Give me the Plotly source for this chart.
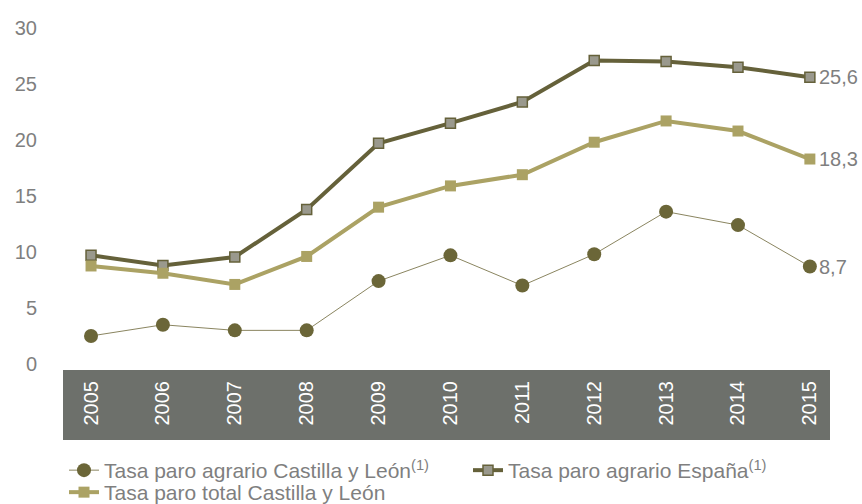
import plotly.graph_objects as go

years = ["2005", "2006", "2007", "2008", "2009", "2010", "2011", "2012", "2013", "2014", "2015"]
agrario_cyl = [2.5, 3.5, 3.0, 3.0, 7.4, 9.7, 7.0, 9.8, 13.6, 12.4, 8.7]
agrario_esp = [9.7, 8.8, 9.55, 13.8, 19.7, 21.5, 23.4, 27.1, 27.0, 26.5, 25.6]
total_cyl = [8.75, 8.1, 7.1, 9.6, 14.0, 15.9, 16.9, 19.8, 21.7, 20.8, 18.3]
end_labels = ["8,7", "25,6", "18,3"]
y_ticks = [0, 5, 10, 15, 20, 25, 30]

GREY = "#7f7f7f"
FONT = "Liberation Sans, Arial, sans-serif"
xs = list(range(len(years)))

fig = go.Figure()
fig.add_trace(go.Scatter(
    x=xs, y=agrario_cyl, mode="lines+markers",
    name="Tasa paro agrario Castilla y León<sup>(1)</sup>",
    line=dict(color="#8a8560", width=1),
    marker=dict(symbol="circle", size=14, color="#6b6638", line=dict(width=0)),
    legend="legend",
))
fig.add_trace(go.Scatter(
    x=xs, y=agrario_esp, mode="lines+markers",
    name="Tasa paro agrario España<sup>(1)</sup>",
    line=dict(color="#65613a", width=4),
    marker=dict(symbol="square", size=10, color="#9a998d", line=dict(width=1.5, color="#65613a")),
    legend="legend2",
))
fig.add_trace(go.Scatter(
    x=xs, y=total_cyl, mode="lines+markers",
    name="Tasa paro total Castilla y León",
    line=dict(color="#aba264", width=4),
    marker=dict(symbol="square", size=11, color="#aba264", line=dict(width=0)),
    legend="legend3",
))

series_last = [agrario_cyl[-1], agrario_esp[-1], total_cyl[-1]]
for lab, yv in zip(end_labels, series_last):
    fig.add_annotation(x=xs[-1], y=yv, xref="x", yref="y", text=lab, showarrow=False,
                       xanchor="left", xshift=7, font=dict(size=20, color=GREY, family=FONT))

W, H = 862, 504
L, R, T, B = 63, 32, 28, 134
plot_h = H - T - B

# grey band behind x tick labels
fig.add_shape(type="rect", xref="paper", yref="paper", x0=0, x1=1, y0=0, y1=-70/plot_h,
              fillcolor="#6d706b", line=dict(width=0), layer="below")

leg_common = dict(orientation="h", xref="container", yref="container",
                  xanchor="left", yanchor="top",
                  font=dict(size=21, color=GREY, family=FONT),
                  itemwidth=30, tracegroupgap=0, bgcolor="rgba(0,0,0,0)")

fig.update_layout(
    width=W, height=H,
    margin=dict(l=L, r=R, t=T, b=B),
    paper_bgcolor="white", plot_bgcolor="white",
    font=dict(family=FONT, color=GREY),
    showlegend=True,
    legend=dict(x=64/W, y=1-450/H, **leg_common),
    legend2=dict(x=468/W, y=1-450/H, **leg_common),
    legend3=dict(x=64/W, y=1-472/H, **leg_common),
    xaxis=dict(range=[-0.39, 10.28], tickmode="array", tickvals=xs, ticktext=years,
               tickangle=-90, tickfont=dict(size=20, color="white", family=FONT),
               showgrid=False, zeroline=False, showline=False, automargin=False,
               ticks="outside", ticklen=2, tickcolor="rgba(0,0,0,0)", fixedrange=True),
    yaxis=dict(range=[-0.54, 30], tickvals=y_ticks, tickfont=dict(size=20, color=GREY, family=FONT),
               showgrid=False, zeroline=False, showline=False, automargin=False,
               ticklabelstandoff=25),
)

fig.write_html("out.html", config={"displayModeBar": False},
               post_script="document.body.style.margin='0px';document.body.style.overflow='hidden';")
